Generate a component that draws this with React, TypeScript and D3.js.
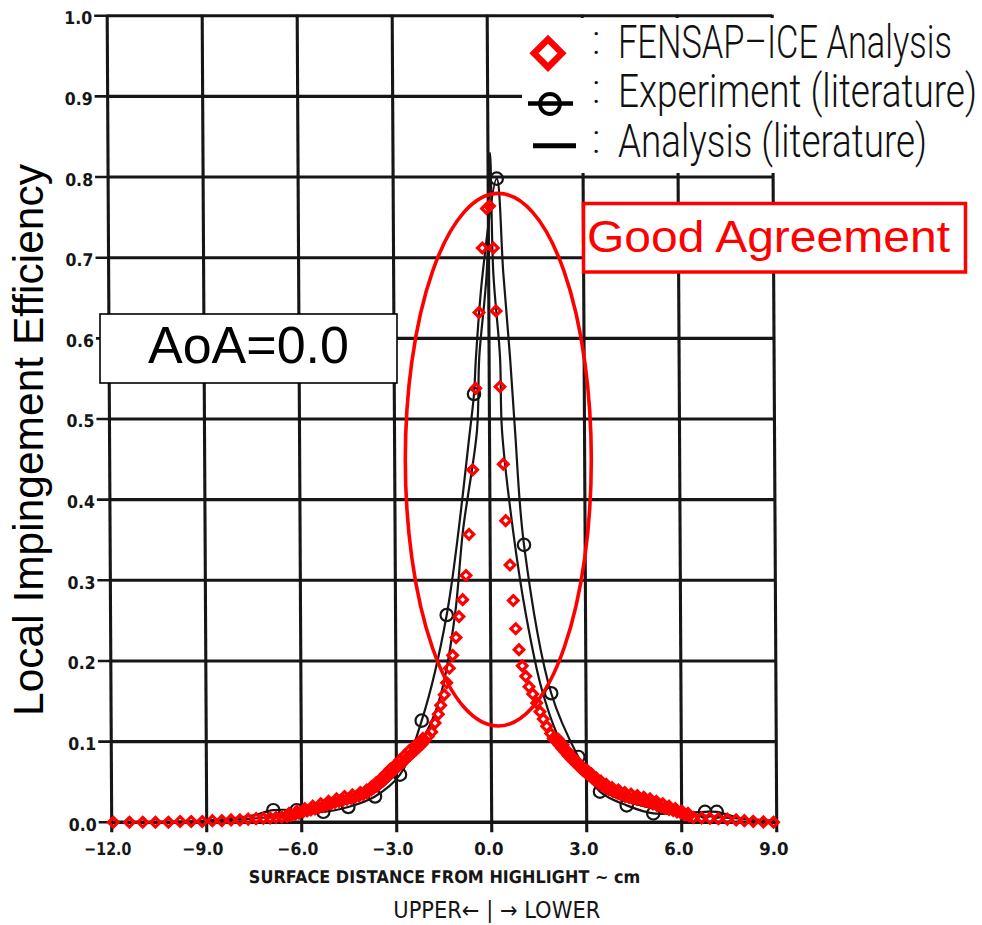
import React from 'react';
import * as d3 from 'd3';

// ---------- axis ticks ----------
const xTicks = [-12, -9, -6, -3, 0, 3, 6, 9];
const xTickLabels = ['\u221212.0', '\u22129.0', '\u22126.0', '\u22123.0', '0.0', '3.0', '6.0', '9.0'];
const yTicks = [0, 0.1, 0.2, 0.3, 0.4, 0.5, 0.6, 0.7, 0.8, 0.9, 1.0];
const yTickLabels = ['0.0', '0.1', '0.2', '0.3', '0.4', '0.5', '0.6', '0.7', '0.8', '0.9', '1.0'];

// ---------- FENSAP-ICE analysis (red diamonds) ----------
const fensapUpperTail: [number, number][] = [
  [-11.95, 0], [-11.44, 0], [-11.02, 0], [-10.62, 0], [-10.21, 0], [-9.84, 0.001], [-9.49, 0.001],
  [-9.14, 0.001], [-8.82, 0.002], [-8.52, 0.002], [-8.23, 0.003], [-7.95, 0.003], [-7.69, 0.004],
  [-7.44, 0.0045], [-7.21, 0.005], [-7.0, 0.0055], [-6.81, 0.006], [-6.63, 0.0065],
];
const fensapUpperBand: [number, number][] = [
  [-6.46, 0.0072], [-6.34, 0.0084], [-6.21, 0.0097], [-6.09, 0.0113], [-5.96, 0.0128], [-5.83, 0.014],
  [-5.71, 0.0152], [-5.58, 0.0167], [-5.45, 0.0183], [-5.33, 0.0198], [-5.2, 0.0214], [-5.08, 0.0229],
  [-4.95, 0.0245], [-4.82, 0.026], [-4.7, 0.0274], [-4.57, 0.0286], [-4.44, 0.0299], [-4.32, 0.031],
  [-4.19, 0.0326], [-4.06, 0.0345], [-3.94, 0.0367], [-3.81, 0.04], [-3.72, 0.0425], [-3.62, 0.045],
  [-3.53, 0.0481], [-3.43, 0.0512], [-3.34, 0.0549], [-3.24, 0.0586], [-3.15, 0.0624], [-3.05, 0.0658],
  [-2.96, 0.0692], [-2.86, 0.0723], [-2.77, 0.076], [-2.68, 0.0797], [-2.58, 0.0831], [-2.49, 0.0865],
  [-2.39, 0.09], [-2.3, 0.0934], [-2.2, 0.0971], [-2.11, 0.1014], [-2.01, 0.1064],
];
const fensapUpperBandEdge: [number, number][] = [
  [-6.4, 0.011], [-6.15, 0.014], [-5.9, 0.017], [-5.65, 0.02], [-5.4, 0.023], [-5.15, 0.026],
  [-4.9, 0.029], [-4.65, 0.032], [-4.4, 0.034], [-4.15, 0.037], [-3.95, 0.04], [-3.8, 0.044],
  [-3.65, 0.049], [-3.5, 0.054], [-3.35, 0.06], [-3.2, 0.066], [-3.05, 0.071], [-2.9, 0.077],
  [-2.75, 0.083], [-2.6, 0.089], [-2.45, 0.094], [-2.3, 0.099], [-2.17, 0.104],
];
const fensapUpperPeak: [number, number][] = [
  [-1.895, 0.112], [-1.79, 0.123], [-1.686, 0.134], [-1.611, 0.145], [-1.497, 0.158], [-1.421, 0.173],
  [-1.339, 0.191], [-1.232, 0.207], [-1.127, 0.229], [-1.032, 0.255], [-0.916, 0.276], [-0.812, 0.306],
  [-0.717, 0.357], [-0.6, 0.437], [-0.505, 0.538], [-0.401, 0.632], [-0.297, 0.712], [-0.164, 0.761],
  [-0.069, 0.764],
];
const fensapLowerPeak: [number, number][] = [
  [0.051, 0.712], [0.136, 0.634], [0.262, 0.54], [0.366, 0.444], [0.442, 0.374], [0.578, 0.319],
  [0.682, 0.275], [0.758, 0.24], [0.862, 0.214], [0.966, 0.194], [1.074, 0.181], [1.178, 0.168],
  [1.295, 0.159], [1.421, 0.148], [1.525, 0.137], [1.629, 0.128], [1.737, 0.119], [1.863, 0.11],
  [1.945, 0.104],
];
const fensapLowerBand: [number, number][] = [
  [2.03, 0.1008], [2.13, 0.0958], [2.22, 0.0915], [2.32, 0.0872], [2.41, 0.0828], [2.5, 0.0791],
  [2.6, 0.0754], [2.69, 0.0717], [2.79, 0.0679], [2.88, 0.0642], [2.98, 0.0611], [3.07, 0.058],
  [3.17, 0.0549], [3.26, 0.0518], [3.36, 0.049], [3.45, 0.0462], [3.58, 0.0431], [3.7, 0.0407],
  [3.83, 0.0384], [3.96, 0.0363], [4.08, 0.0341], [4.21, 0.0322], [4.34, 0.0307], [4.46, 0.0295],
  [4.59, 0.0283], [4.72, 0.0273], [4.84, 0.026], [4.97, 0.0245], [5.09, 0.0227], [5.22, 0.0208],
  [5.35, 0.019], [5.47, 0.0174], [5.6, 0.0159], [5.73, 0.0146], [5.85, 0.013], [5.98, 0.0112],
  [6.1, 0.0093], [6.23, 0.0078],
];
const fensapLowerBandEdge: [number, number][] = [
  [2.1, 0.103], [2.25, 0.096], [2.4, 0.088], [2.55, 0.081], [2.7, 0.075], [2.85, 0.069],
  [3.0, 0.065], [3.15, 0.06], [3.3, 0.055], [3.45, 0.051], [3.62, 0.047], [3.8, 0.043],
  [4.0, 0.04], [4.2, 0.037], [4.4, 0.035], [4.6, 0.033], [4.8, 0.031], [5.0, 0.029],
  [5.2, 0.026], [5.4, 0.023], [5.6, 0.02], [5.8, 0.017], [6.0, 0.014], [6.2, 0.011],
];
const fensapLowerTail: [number, number][] = [
  [6.37, 0.006], [6.63, 0.0055], [6.89, 0.005], [7.16, 0.0045], [7.44, 0.004], [7.72, 0.003],
  [7.98, 0.002], [8.26, 0.0012], [8.58, 0.0005], [8.9, 0],
];

// ---------- Experiment (literature): circles ----------
const experimentPoints: [number, number][] = [
  [-6.897, 0.015], [-6.158, 0.015], [-5.318, 0.013], [-4.528, 0.019], [-3.685, 0.032], [-2.896, 0.059],
  [-2.211, 0.126], [-1.421, 0.257], [-0.559, 0.531], [0.158, 0.798], [1.02, 0.344], [1.879, 0.16],
  [2.735, 0.081], [3.42, 0.038], [4.263, 0.021], [5.103, 0.011], [6.736, 0.013], [7.105, 0.013],
];
// line drawn through the experiment
const experimentLine: [number, number][] = [
  [-9.21, 0.0016], [-7.63, 0.0078], [-6.897, 0.015], [-6.158, 0.015], [-5.318, 0.013], [-4.528, 0.019],
  [-3.685, 0.032], [-2.896, 0.059], [-2.211, 0.126], [-1.421, 0.257], [-0.685, 0.486], [-0.559, 0.531],
  [-0.496, 0.577], [-0.284, 0.681], [0.158, 0.798], [0.366, 0.681], [0.578, 0.577], [0.736, 0.486],
  [1.02, 0.344], [1.879, 0.16], [2.735, 0.081], [3.42, 0.038], [4.263, 0.021], [5.103, 0.011],
  [5.946, 0.0115], [6.736, 0.013], [7.105, 0.013], [7.841, 0.0053], [9.0, 0.0016],
];
// ---------- Analysis (literature): solid line ----------
const analysisLine: [number, number][] = [
  [-12, 0], [-9.21, 0.0016], [-7.32, 0.0053], [-6.05, 0.0115], [-4.79, 0.0214], [-3.84, 0.0338],
  [-3.05, 0.0586], [-2.42, 0.0896], [-1.95, 0.1206], [-1.57, 0.164], [-1.16, 0.257], [-0.906, 0.362],
  [-0.464, 0.486], [-0.392, 0.577], [-0.158, 0.681], [-0.054, 0.83], [0.051, 0.681], [0.262, 0.577],
  [0.325, 0.486], [0.673, 0.362], [1.083, 0.257], [1.588, 0.164], [2.157, 0.102], [2.946, 0.059],
  [3.736, 0.034], [5.0, 0.018], [6.58, 0.009], [9.0, 0.0016],
];

const legendLabels = ['FENSAP\u2013ICE Analysis', 'Experiment (literature)', 'Analysis (literature)'];

export default function App() {
  const W = 982;
  const H = 925;
  const x = d3.scaleLinear().domain([-12, 9]).range([111.7, 776.7]);
  const y = d3.scaleLinear().domain([0, 1]).range([822.3, 15.7]);
  const line = d3
    .line<[number, number]>()
    .x((d) => x(d[0]))
    .y((d) => y(d[1]))
    .curve(d3.curveCatmullRom.alpha(0.5));
  const diamond = (r: number) => `M0,${-r}L${r},0L0,${r}L${-r},0Z`;
  const skew = `translate(0,${y(0)}) skewX(0.32) translate(0,${-y(0)})`;
  const fensapAll = [
    ...fensapUpperTail,
    ...fensapUpperBandEdge,
    ...fensapUpperBand,
    ...fensapUpperPeak,
    ...fensapLowerPeak,
    ...fensapLowerBandEdge,
    ...fensapLowerBand,
    ...fensapLowerTail,
  ];
  const ink = '#161616';
  const red = '#ff0000';
  const legendWidths = [334, 359, 309];
  const legendBase = [58.3, 106.8, 156.5];
  const legendScale = 0.66;

  return (
    <svg
      width={W}
      height={H}
      viewBox={`0 0 ${W} ${H}`}
      style={{ position: 'absolute', left: 0, top: 0, display: 'block' }}
    >
      <rect x={0} y={0} width={W} height={H} fill="#fff" />

      {/* scanned grid */}
      <g transform={skew} stroke={ink} fill="none">
        {yTicks.map((t) => (
          <line key={'h' + t} x1={x(-12)} x2={x(9)} y1={y(t)} y2={y(t)} strokeWidth={t === 0 ? 3.4 : 3.1} />
        ))}
        {xTicks.map((t) => (
          <line key={'v' + t} x1={x(t)} x2={x(t)} y1={y(1) - 1} y2={y(0) + 10} strokeWidth={3.1} />
        ))}
        {yTicks.map((t) => (
          <line key={'yt' + t} x1={x(-12) - 13} x2={x(-12)} y1={y(t)} y2={y(t)} strokeWidth={2.6} />
        ))}
      </g>
      <g transform={skew} fill={ink} fontFamily="'DejaVu Sans', sans-serif" fontWeight="bold">
        {yTicks.map((t, i) => (
          <text key={'yl' + t} x={x(-12) - 15} y={y(t) + 8.5} fontSize={17.5} textAnchor="end" textLength={28} lengthAdjust="spacingAndGlyphs">
            {yTickLabels[i]}
          </text>
        ))}
        {xTicks.map((t, i) => (
          <text
            key={'xl' + t}
            x={x(t) - (t < 0 ? 4 : 3)}
            y={855.5}
            fontSize={17.5}
            textAnchor="middle"
            textLength={t === -12 ? 47 : t < 0 ? 41 : 29.5}
            lengthAdjust="spacingAndGlyphs"
          >
            {xTickLabels[i]}
          </text>
        ))}
        <text x={248.5} y={883.3} fontSize={17.5} textLength={391.5} lengthAdjust="spacingAndGlyphs">
          SURFACE DISTANCE FROM HIGHLIGHT ~ cm
        </text>
      </g>
      <text
        x={393.3}
        y={918.3}
        fontSize={23}
        fontFamily="'DejaVu Sans', sans-serif"
        fill={ink}
        textLength={207}
        lengthAdjust="spacingAndGlyphs"
      >
        {'UPPER\u2190 | \u2192 LOWER'}
      </text>

      {/* literature curves */}
      <path d={line(experimentLine) || ''} fill="none" stroke={ink} strokeWidth={2.2} />
      <path d={line(analysisLine) || ''} fill="none" stroke={ink} strokeWidth={2.2} />
      {experimentPoints.map((p, i) => (
        <circle key={'c' + i} cx={x(p[0])} cy={y(p[1])} r={6.2} fill="none" stroke={ink} strokeWidth={2.2} />
      ))}

      {/* AoA box */}
      <rect x={100} y={314} width={297} height={69} fill="#fff" stroke="#000" strokeWidth={1.6} />
      <text x={248.5} y={363} fontSize={52} fontFamily="'Liberation Sans', Arial, sans-serif" textAnchor="middle" fill="#000">
        AoA=0.0
      </text>

      {/* Good Agreement box */}
      <rect x={583.5} y={203.5} width={382} height={68.5} fill="#fff" stroke={red} strokeWidth={3.5} />
      <text x={587} y={252} fontSize={44.5} fontFamily="'Liberation Sans', Arial, sans-serif" fill={red} textLength={363} lengthAdjust="spacingAndGlyphs">
        Good Agreement
      </text>

      {/* highlight ellipse */}
      <ellipse cx={498.3} cy={459.7} rx={93} ry={266.3} fill="none" stroke={red} strokeWidth={3.6} />

      {/* FENSAP diamonds */}
      {fensapAll.map((p, i) => (
        <path
          key={'d' + i}
          d={diamond(4.8)}
          transform={`translate(${x(p[0])},${y(p[1])})`}
          fill="none"
          stroke={red}
          strokeWidth={3.2}
        />
      ))}

      {/* legend */}
      <rect x={522} y={18} width={460} height={155} fill="#fff" />
      <path d={diamond(14)} transform="translate(548,53.3)" fill="none" stroke={red} strokeWidth={6.5} />
      <line x1={528} x2={573} y1={103.5} y2={103.5} stroke="#000" strokeWidth={4.5} />
      <circle cx={550} cy={104} r={10} fill="none" stroke="#000" strokeWidth={3.8} />
      <line x1={533} x2={576} y1={145.8} y2={145.8} stroke="#000" strokeWidth={5} />
      {legendLabels.map((s, i) => (
        <g key={'lg' + i} fontFamily="Roboto, 'DejaVu Sans', sans-serif" fontWeight={300} fill="#111">
          <text x={592} y={legendBase[i] - 4} fontSize={40}>
            :
          </text>
          <text
            transform={`translate(618,${legendBase[i]}) scale(${legendScale},1)`}
            x={0}
            y={0}
            fontSize={46}
            textLength={legendWidths[i] / legendScale}
            lengthAdjust="spacingAndGlyphs"
          >
            {s}
          </text>
        </g>
      ))}

      {/* y axis title */}
      <text
        transform="translate(42.5,440) rotate(-90)"
        fontSize={42.5}
        fontFamily="'Liberation Sans', Arial, sans-serif"
        textAnchor="middle"
        fill="#000"
      >
        Local Impingement Efficiency
      </text>
    </svg>
  );
}
